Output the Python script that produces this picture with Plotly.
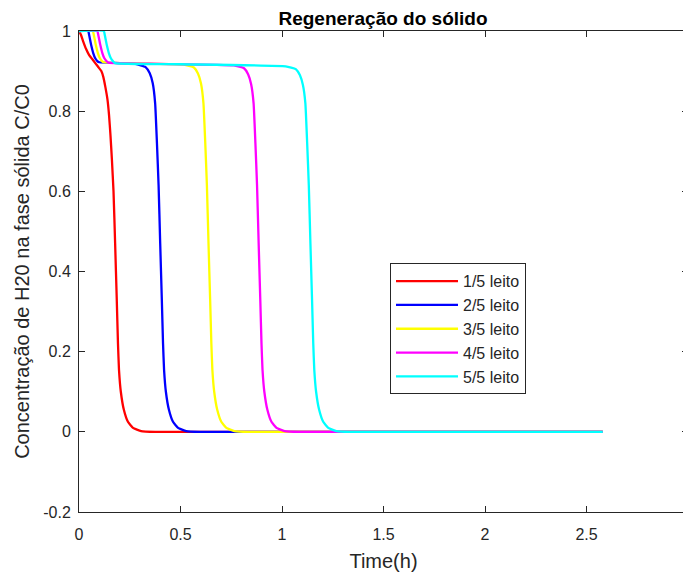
import plotly.graph_objects as go

# ---- data ----
labels = ["1/5 leito", "2/5 leito", "3/5 leito", "4/5 leito", "5/5 leito"]
colors = ["#FF0000", "#0000FF", "#FFFF00", "#FF00FF", "#00FFFF"]

x_1 = [0, 0.01, 0.02, 0.035, 0.05, 0.065, 0.08, 0.095, 0.11, 0.12, 0.13, 0.14, 0.148,
       0.155, 0.162, 0.17, 0.178, 0.186, 0.192, 0.197, 0.206, 0.221, 0.241, 0.266,
       0.306, 0.376, 2.58]
y_1 = [1, 0.99, 0.975, 0.955, 0.94, 0.93, 0.92, 0.91, 0.9, 0.885, 0.86, 0.83, 0.79,
       0.74, 0.68, 0.6, 0.47, 0.33, 0.22, 0.155, 0.1, 0.055, 0.025, 0.01,
       0.002, 0, 0]

x_2 = [0, 0.045, 0.05, 0.06, 0.07, 0.08, 0.09, 0.1, 0.2, 0.278, 0.328, 0.348, 0.363,
       0.375, 0.384, 0.392, 0.4, 0.408, 0.414, 0.419, 0.428, 0.443, 0.463, 0.488,
       0.528, 0.598, 2.58]
y_2 = [1, 1, 0.99, 0.965, 0.945, 0.932, 0.925, 0.922, 0.92, 0.918, 0.91, 0.895, 0.87,
       0.82, 0.72, 0.616, 0.47, 0.33, 0.22, 0.155, 0.1, 0.055, 0.025, 0.01,
       0.002, 0, 0]

x_3 = [0, 0.068, 0.073, 0.083, 0.093, 0.103, 0.113, 0.123, 0.3, 0.516, 0.566, 0.586, 0.601,
       0.613, 0.622, 0.63, 0.638, 0.646, 0.652, 0.657, 0.666, 0.681, 0.701, 0.726,
       0.766, 0.836, 2.58]
y_3 = [1, 1, 0.99, 0.965, 0.945, 0.932, 0.925, 0.922, 0.919, 0.916, 0.909, 0.894, 0.869,
       0.82, 0.72, 0.616, 0.47, 0.33, 0.22, 0.155, 0.1, 0.055, 0.025, 0.01,
       0.002, 0, 0]

x_4 = [0, 0.09, 0.095, 0.105, 0.115, 0.125, 0.135, 0.145, 0.4, 0.763, 0.813, 0.833, 0.848,
       0.86, 0.869, 0.877, 0.885, 0.893, 0.899, 0.904, 0.913, 0.928, 0.948, 0.973,
       1.013, 1.083, 2.58]
y_4 = [1, 1, 0.99, 0.965, 0.945, 0.932, 0.925, 0.921, 0.918, 0.914, 0.907, 0.892, 0.867,
       0.82, 0.72, 0.616, 0.47, 0.33, 0.22, 0.155, 0.1, 0.055, 0.025, 0.01,
       0.002, 0, 0]

x_5 = [0, 0.122, 0.127, 0.137, 0.147, 0.157, 0.167, 0.177, 0.5, 1.018, 1.068, 1.088, 1.103,
       1.115, 1.124, 1.132, 1.14, 1.148, 1.154, 1.159, 1.168, 1.183, 1.203, 1.228,
       1.268, 1.338, 2.58]
y_5 = [1, 1, 0.99, 0.965, 0.945, 0.932, 0.925, 0.92, 0.917, 0.912, 0.905, 0.89, 0.865,
       0.82, 0.72, 0.616, 0.47, 0.33, 0.22, 0.155, 0.1, 0.055, 0.025, 0.01,
       0.002, 0, 0]

x_ticks = [0, 0.5, 1, 1.5, 2, 2.5, 3]
y_ticks = [-0.2, 0, 0.2, 0.4, 0.6, 0.8, 1]

series_x = [x_1, x_2, x_3, x_4, x_5]
series_y = [y_1, y_2, y_3, y_4, y_5]

FONT = "Liberation Sans, Arial, sans-serif"
AX = "#262626"

# page body has an 8px margin, so the figure is sized to fit the 691x576 window
W, H = 683, 568

fig = go.Figure()
for i in range(5):
    fig.add_trace(go.Scatter(
        x=series_x[i], y=series_y[i], mode="lines", name=labels[i],
        line=dict(color=colors[i], width=2.3, shape="spline", smoothing=0.4),
    ))

axis_common = dict(
    showgrid=False, zeroline=False, showline=True, linecolor=AX, linewidth=1,
    mirror="ticks", ticks="inside", ticklen=6, tickcolor=AX, tickwidth=1,
    tickfont=dict(family=FONT, size=16, color=AX),
)

fig.update_layout(
    width=W, height=H,
    margin=dict(l=71, r=3, t=23, b=64),
    paper_bgcolor="white", plot_bgcolor="white",
    title=dict(text="<b>Regeneração do sólido</b>", x=375 / W, xanchor="center",
               y=1 - 10 / H, yanchor="middle",
               font=dict(family=FONT, size=19, color="black")),
    xaxis=dict(range=[0, 3], tickvals=x_ticks, ticktext=[f"{v:g}" for v in x_ticks],
               ticklabelstandoff=8,
               title=dict(text="Time(h)", font=dict(family=FONT, size=20, color=AX), standoff=11),
               **axis_common),
    yaxis=dict(range=[-0.2, 1], tickvals=y_ticks, ticktext=[f"{v:g}" for v in y_ticks],
               ticklabelstandoff=4,
               title=dict(text="Concentração de H20 na fase sólida C/C0",
                          font=dict(family=FONT, size=20, color=AX), standoff=8),
               **axis_common),
    legend=dict(x=(390 - 79) / 609, y=(513 - 264) / 481.5, xanchor="left", yanchor="top",
                bordercolor=AX, borderwidth=1, bgcolor="white",
                font=dict(family=FONT, size=16, color=AX),
                itemwidth=62),
    showlegend=True,
)

fig.write_html("out.html")
